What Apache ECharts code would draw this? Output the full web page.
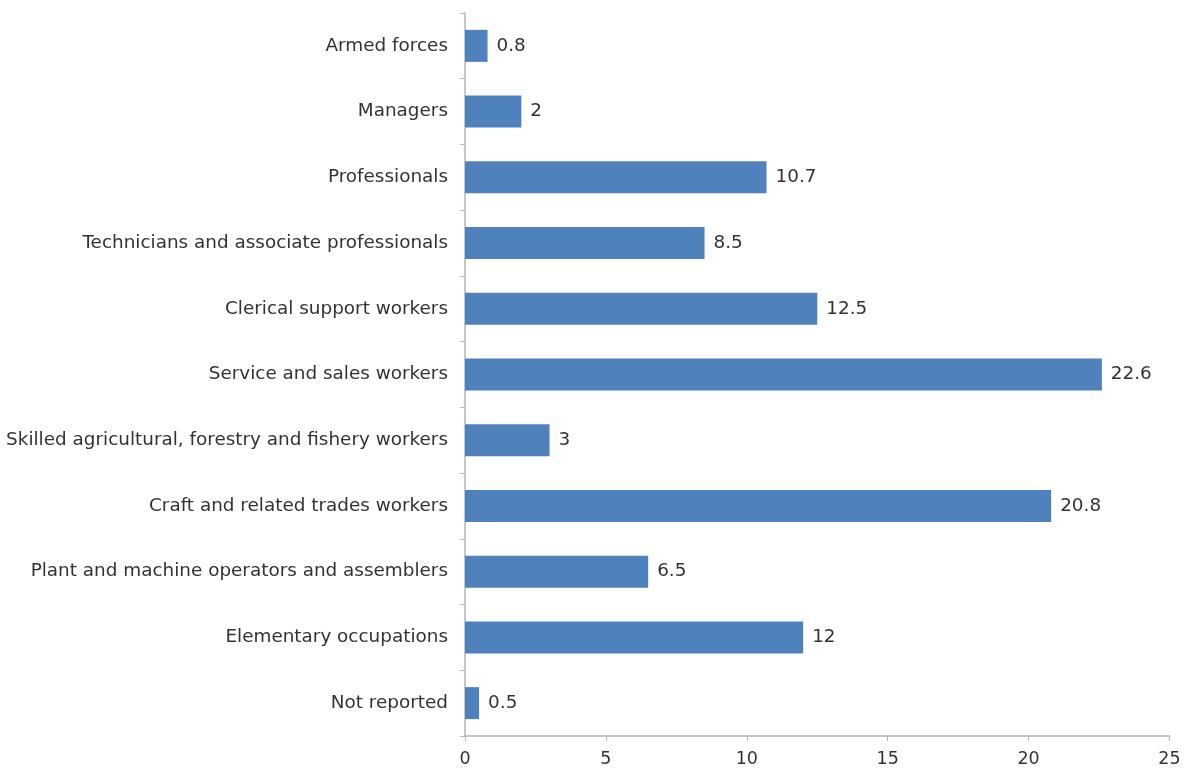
<!DOCTYPE html>
<html>
<head>
<meta charset="utf-8">
<script src="https://cdn.jsdelivr.net/npm/echarts@6/dist/echarts.min.js"></script>
<style>
html, body { margin: 0; padding: 0; background: #fff; }
#chart { width: 1187px; height: 771px; }
</style>
</head>
<body>
<div id="chart"></div>
<script>
// categories listed bottom to top (category axis on y starts at the bottom)
const categories = [
    'Not reported',
    'Elementary occupations',
    'Plant and machine operators and assemblers',
    'Craft and related trades workers',
    'Skilled agricultural, forestry and fishery workers',
    'Service and sales workers',
    'Clerical support workers',
    'Technicians and associate professionals',
    'Professionals',
    'Managers',
    'Armed forces'
];
const values = [0.5, 12, 6.5, 20.8, 3, 22.6, 12.5, 8.5, 10.7, 2, 0.8];
const xTicks = [0, 5, 10, 15, 20, 25];

const chart = echarts.init(document.getElementById('chart'));
const font = 'DejaVu Sans, Verdana, sans-serif';
chart.setOption({
    animation: false,
    grid: { left: 465, right: 17.5, top: 13, bottom: 35 },
    xAxis: {
        type: 'value',
        min: xTicks[0],
        max: xTicks[xTicks.length - 1],
        interval: 5,
        axisLine: { show: true, lineStyle: { color: '#b4b4b4', width: 1.5 } },
        axisTick: { show: true, length: 5, lineStyle: { color: '#b4b4b4' } },
        splitLine: { show: false },
        axisLabel: { color: '#333', fontSize: 17.5, fontFamily: font, margin: 14 }
    },
    yAxis: {
        type: 'category',
        data: categories,
        axisLine: { show: true, lineStyle: { color: '#b4b4b4', width: 1.5 } },
        axisTick: { show: true, length: 5, lineStyle: { color: '#b4b4b4' } },
        axisLabel: { color: '#333', fontSize: 18.4, fontFamily: font, margin: 17 }
    },
    series: [{
        type: 'bar',
        data: values,
        barWidth: 32,
        itemStyle: { color: '#4f81bd' },
        label: {
            show: true,
            position: 'right',
            distance: 9,
            color: '#333',
            fontSize: 18.4,
            fontFamily: font
        }
    }]
});
</script>
</body>
</html>
